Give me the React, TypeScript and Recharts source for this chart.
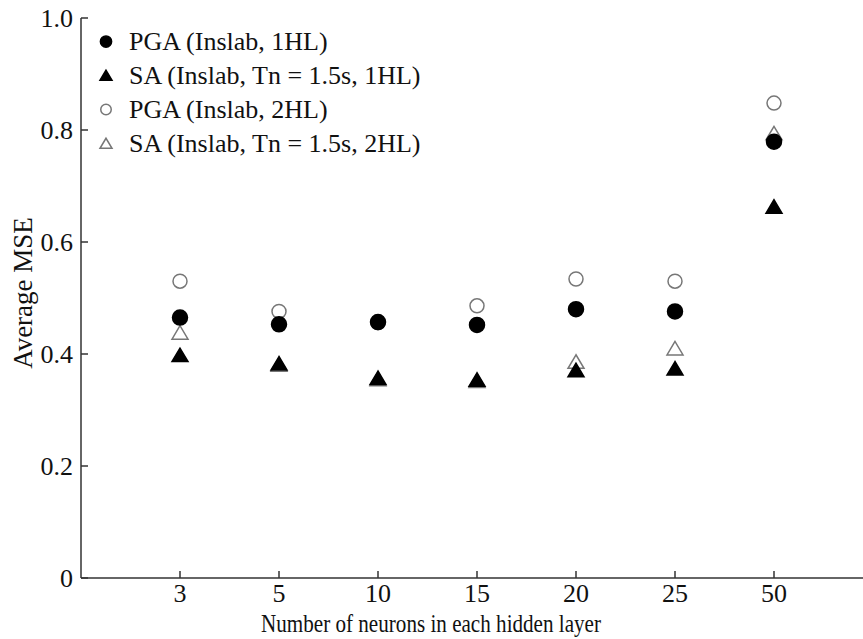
import { Legend, Scatter, ScatterChart, XAxis, YAxis } from "recharts";

// Average MSE per hidden-layer size, Inslab models with one and two hidden layers
const NEURONS = ["3", "5", "10", "15", "20", "25", "50"];
const PGA_1HL = [0.465, 0.453, 0.457, 0.452, 0.48, 0.476, 0.779];
const SA_1HL = [0.398, 0.383, 0.357, 0.354, 0.371, 0.374, 0.663];
const PGA_2HL = [0.53, 0.476, 0.456, 0.486, 0.534, 0.53, 0.848];
const SA_2HL = [0.438, 0.381, 0.355, 0.352, 0.386, 0.41, 0.794];
const Y_TICKS = [0, 0.2, 0.4, 0.6, 0.8, 1];

const FONT = "'Liberation Serif', 'Times New Roman', serif";
const AXIS = "#333";
const OPEN = "#777";
const FS = 26;

const toPoints = (vals: number[]) => vals.map((y, i) => ({ x: i + 1, y }));

type MarkerProps = {
  cx?: number;
  cy?: number;
  kind: "circle" | "triangle";
  open?: boolean;
  scale?: number;
};

function Marker({ cx = 0, cy = 0, kind, open, scale = 1 }: MarkerProps) {
  const fill = open ? "#fff" : "#000";
  const stroke = open ? OPEN : "#000";
  if (kind === "circle") {
    return (
      <circle cx={cx} cy={cy} r={(open ? 7 : 7.5) * scale} fill={fill} stroke={stroke} strokeWidth={1.5} />
    );
  }
  const h = 7 * scale;
  const w = 8 * scale;
  const pts = `${cx},${cy - h} ${cx - w},${cy + h - 0.5} ${cx + w},${cy + h - 0.5}`;
  return <polygon points={pts} fill={fill} stroke={stroke} strokeWidth={1.5} />;
}

const LEGEND = [
  { label: "PGA (Inslab, 1HL)", kind: "circle" as const, open: false },
  { label: "SA (Inslab, Tn = 1.5s, 1HL)", kind: "triangle" as const, open: false },
  { label: "PGA (Inslab, 2HL)", kind: "circle" as const, open: true },
  { label: "SA (Inslab, Tn = 1.5s, 2HL)", kind: "triangle" as const, open: true },
];

function LegendBox() {
  return (
    <svg width={380} height={140} style={{ display: "block" }}>
      {LEGEND.map((item, i) => {
        const base = 25 + i * 34;
        return (
          <g key={item.label}>
            <Marker cx={16} cy={base - 8.5} kind={item.kind} open={item.open} scale={0.75} />
            <text x={39} y={base} fontFamily={FONT} fontSize={FS} fill="#111">
              {item.label}
            </text>
          </g>
        );
      })}
    </svg>
  );
}

export default function App() {
  const tickStyle = { fontSize: FS, fontFamily: FONT, fill: "#111" };
  return (
    <div style={{ position: "absolute", left: 0, top: 0, width: 863, height: 639, overflow: "hidden", background: "#fff" }}>
      <ScatterChart width={900} height={639} margin={{ top: 18, right: 27, bottom: 0, left: 0 }}>
        <XAxis
          xAxisId="bottom"
          type="number"
          dataKey="x"
          domain={[0, 8]}
          ticks={[1, 2, 3, 4, 5, 6, 7]}
          tickFormatter={(v: number) => NEURONS[v - 1] ?? ""}
          height={61}
          tickSize={-7}
          tickMargin={13}
          tick={tickStyle}
          stroke={AXIS}
          strokeWidth={1.5}
          allowDataOverflow
          label={{
            content: ({ viewBox }: any) => {
              const cx = (viewBox?.x ?? 0) + (viewBox?.width ?? 0) / 2 - 46;
              const by = (viewBox?.y ?? 0) + 54;
              return (
                <text
                  x={cx}
                  y={by}
                  textAnchor="middle"
                  textLength={340}
                  lengthAdjust="spacingAndGlyphs"
                  fontFamily={FONT}
                  fontSize={FS}
                  fill="#111"
                >
                  Number of neurons in each hidden layer
                </text>
              );
            },
          }}
        />
        <XAxis
          xAxisId="top"
          orientation="top"
          type="number"
          dataKey="x"
          domain={[0, 8]}
          ticks={[1, 2, 3, 4, 5, 6, 7]}
          tickFormatter={() => ""}
          height={0}
          tickSize={-7}
          stroke={AXIS}
          strokeWidth={1.5}
          allowDataOverflow
        />
        <YAxis
          yAxisId="left"
          type="number"
          dataKey="y"
          domain={[0, 1]}
          ticks={Y_TICKS}
          tickFormatter={(v: number) => (v === 0 ? "0" : v.toFixed(1))}
          width={81}
          tickSize={-7}
          tickMargin={15}
          tick={tickStyle}
          stroke={AXIS}
          strokeWidth={1.5}
          label={{
            content: ({ viewBox }: any) => {
              const bx = (viewBox?.x ?? 0) + 32;
              const cy = (viewBox?.y ?? 0) + (viewBox?.height ?? 0) / 2 - 5;
              return (
                <text
                  x={bx}
                  y={cy}
                  transform={`rotate(-90 ${bx} ${cy})`}
                  textAnchor="middle"
                  fontFamily={FONT}
                  fontSize={27}
                  fill="#111"
                >
                  Average MSE
                </text>
              );
            },
          }}
        />
        <YAxis
          yAxisId="right"
          orientation="right"
          type="number"
          domain={[0, 1]}
          ticks={Y_TICKS}
          tickFormatter={() => ""}
          width={0}
          tickSize={-7}
          stroke={AXIS}
          strokeWidth={1.5}
        />
        <Legend
          layout="horizontal"
          verticalAlign="middle"
          align="center"
          wrapperStyle={{ left: 90, top: 25, width: 380 }}
          content={() => <LegendBox />}
        />
        <Scatter
          name="PGA (Inslab, 2HL)"
          xAxisId="bottom"
          yAxisId="left"
          data={toPoints(PGA_2HL)}
          isAnimationActive={false}
          shape={(p: any) => <Marker cx={p.cx} cy={p.cy} kind="circle" open />}
        />
        <Scatter
          name="SA (Inslab, Tn = 1.5s, 2HL)"
          xAxisId="bottom"
          yAxisId="left"
          data={toPoints(SA_2HL)}
          isAnimationActive={false}
          shape={(p: any) => <Marker cx={p.cx} cy={p.cy} kind="triangle" open />}
        />
        <Scatter
          name="PGA (Inslab, 1HL)"
          xAxisId="bottom"
          yAxisId="left"
          data={toPoints(PGA_1HL)}
          isAnimationActive={false}
          shape={(p: any) => <Marker cx={p.cx} cy={p.cy} kind="circle" />}
        />
        <Scatter
          name="SA (Inslab, Tn = 1.5s, 1HL)"
          xAxisId="bottom"
          yAxisId="left"
          data={toPoints(SA_1HL)}
          isAnimationActive={false}
          shape={(p: any) => <Marker cx={p.cx} cy={p.cy} kind="triangle" />}
        />
      </ScatterChart>
    </div>
  );
}
